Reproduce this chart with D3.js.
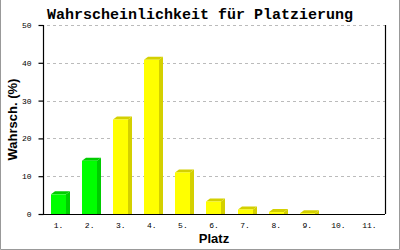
<!DOCTYPE html>
<html>
<head>
<meta charset="utf-8">
<script src="https://cdn.jsdelivr.net/npm/d3@7"></script>
<style>
  body { margin: 0; background: #fff; }
  svg { display: block; }
</style>
</head>
<body>
<svg id="chart"></svg>
<script>
// data
const places = ["1.", "2.", "3.", "4.", "5.", "6.", "7.", "8.", "9.", "10.", "11."];
const probs = [5.2, 14.1, 25.0, 40.8, 11.0, 3.3, 1.2, 0.5, 0.2, 0, 0];
const highlighted = [true, true, false, false, false, false, false, false, false, false, false];
const yTicks = [0, 10, 20, 30, 40, 50];

const W = 400, H = 250;
const margin = { top: 25, right: 15, bottom: 36, left: 43 };
const width = W - margin.left - margin.right,
  height = H - margin.top - margin.bottom;
const depthX = 4, depthY = 3;

const svg = d3.select("#chart").attr("width", W).attr("height", H);

// frame
svg.append("path")
  .attr("d", `M0.5,0 V${H - 0.5} H${W - 0.5} V0`)
  .attr("fill", "none")
  .attr("stroke", "#999");

svg.append("text")
  .attr("x", W / 2)
  .attr("y", 19)
  .attr("text-anchor", "middle")
  .style("font-family", "Liberation Mono, DejaVu Sans Mono, monospace")
  .style("font-weight", "bold")
  .style("font-size", "15px")
  .text("Wahrscheinlichkeit für Platzierung");

const g = svg.append("g").attr("transform", `translate(${margin.left},${margin.top})`);

const xScale = d3.scaleBand().domain(places).range([0, width]);
const yScale = d3.scaleLinear().domain([0, 50]).range([height, 0]);

// grid
g.selectAll(".grid")
  .data(yTicks.filter(d => d > 0))
  .join("line")
  .attr("x1", 4)
  .attr("x2", width)
  .attr("y1", d => Math.round(yScale(d)) + 0.5)
  .attr("y2", d => Math.round(yScale(d)) + 0.5)
  .attr("stroke", "#bbb")
  .attr("stroke-dasharray", "3,3");

// bars
const colors = (d, i) => highlighted[i] ? ["#00ff00", "#00cc00"] : ["#ffff00", "#d4d000"];
const bw = 15;
const bars = g.selectAll(".bar").data(probs).join("g");

bars.each(function(d, i) {
  const x0 = Math.round(xScale(places[i]) + xScale.bandwidth() / 2 - 7.5);
  const x1 = x0 + bw;
  const yT = yScale(d);
  const yB = height;
  const [front, dark] = colors(d, i);
  if (d <= 0) return;
  const sel = d3.select(this);
  sel.append("polygon")
    .attr("points", [[x1, yT], [x1 + depthX, yT - depthY], [x1 + depthX, yB], [x1, yB]].join(" "))
    .attr("fill", dark);
  sel.append("polygon")
    .attr("points", [[x0, yT], [x0 + depthX, yT - depthY], [x1 + depthX, yT - depthY], [x1, yT]].join(" "))
    .attr("fill", dark);
  sel.append("rect")
    .attr("x", x0)
    .attr("y", yT)
    .attr("width", bw)
    .attr("height", yB - yT)
    .attr("fill", front);
});

// axes
const yAxis = g.append("g")
  .attr("transform", "translate(0.5,0)")
  .call(d3.axisLeft(yScale).tickValues(yTicks).tickSize(5).tickPadding(7));
const xAxis = g.append("g")
  .attr("transform", `translate(0,${height + 0.5})`)
  .call(d3.axisBottom(xScale).tickSize(0).tickPadding(8));

[yAxis, xAxis].forEach(a => {
  a.selectAll("path, line").attr("stroke", "#000").attr("stroke-width", 1.2);
  a.selectAll("text")
    .style("font-family", "Liberation Mono, DejaVu Sans Mono, monospace")
    .style("font-size", "8px")
    .attr("fill", "#000");
});
yAxis.select(".domain").attr("d", `M0,${height}V0`);
xAxis.select(".domain").attr("d", `M0,0H${width}`);

// right border of plot
g.append("line")
  .attr("x1", width + 0.5).attr("x2", width + 0.5)
  .attr("y1", 0).attr("y2", height)
  .attr("stroke", "#000").attr("stroke-width", 1.2);

svg.append("text")
  .attr("x", margin.left + width / 2)
  .attr("y", 243)
  .attr("text-anchor", "middle")
  .style("font-family", "Liberation Sans, Arial, sans-serif")
  .style("font-weight", "bold")
  .style("font-size", "13px")
  .text("Platz");

svg.append("text")
  .attr("transform", `translate(17,${margin.top + height / 2}) rotate(-90)`)
  .attr("text-anchor", "middle")
  .style("font-family", "Liberation Sans, Arial, sans-serif")
  .style("font-weight", "bold")
  .style("font-size", "13px")
  .text("Wahrsch. (%)");
</script>
</body>
</html>
